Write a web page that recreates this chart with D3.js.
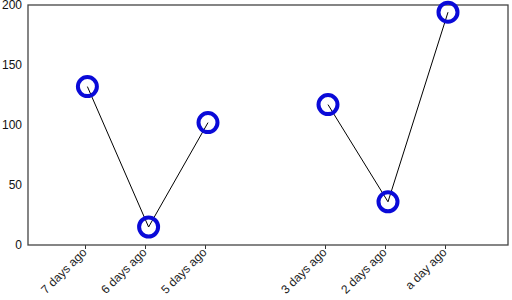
<!DOCTYPE html>
<html><head><meta charset="utf-8">
<script src="https://cdn.jsdelivr.net/npm/d3@7"></script>
<style>body{margin:0;background:#fff}svg{display:block}</style>
</head><body>
<script>
const tickDays = [-7, -6, -5, -3, -2, -1];
const tickLabels = ["7 days ago", "6 days ago", "5 days ago", "3 days ago", "2 days ago", "a day ago"];
const pointDays = [-6.96, -5.94, -4.95, -3.95, -2.95, -1.95, -0.95];
const values = [132, 15, 102, null, 117, 36, 194];
const yTicks = [0, 50, 100, 150, 200];

const W = 512, H = 300;
const m = {left: 28, right: 4, top: 5, bottom: 55};
const svg = d3.select("body").append("svg").attr("width", W).attr("height", H);
const x = d3.scaleLinear().domain([-7.95, 0.05]).range([m.left, W - m.right]);
const y = d3.scaleLinear().domain([0, 200]).range([H - m.bottom, m.top]);

const font = "'Liberation Sans', Arial, Helvetica, sans-serif";

// x axis
const xAxis = svg.append("g").attr("transform", `translate(0,${H - m.bottom})`)
  .call(d3.axisBottom(x).tickValues(tickDays).tickFormat((d, i) => tickLabels[i]).tickSizeOuter(0).tickSize(4));
xAxis.select(".domain").remove();
xAxis.selectAll(".tick line").attr("stroke", "#333");
xAxis.selectAll(".tick text")
  .attr("font-family", font).attr("font-size", 12).attr("fill", "#222")
  .attr("text-anchor", "end")
  .attr("transform", "translate(2,8) rotate(-45)")
  .attr("dx", 0).attr("dy", 0).attr("y", 0).attr("x", 0);

// y axis labels
const yAxis = svg.append("g").attr("transform", `translate(${m.left},0)`)
  .call(d3.axisLeft(y).tickValues(yTicks).tickSize(0).tickPadding(6));
yAxis.select(".domain").remove();
yAxis.selectAll(".tick text").attr("font-family", font).attr("font-size", 12).attr("fill", "#111");

// frame
svg.append("rect").attr("x", m.left).attr("y", m.top)
  .attr("width", W - m.right - m.left).attr("height", H - m.bottom - m.top)
  .attr("fill", "none").attr("stroke", "#444").attr("stroke-width", 1.3);

const pts = pointDays.map((d, i) => ({d, v: values[i]}));
const line = d3.line().defined(p => p.v != null).x(p => x(p.d)).y(p => y(p.v));
svg.append("path").datum(pts).attr("d", line).attr("fill", "none").attr("stroke", "#000").attr("stroke-width", 1);

svg.selectAll("circle.pt").data(pts.filter(p => p.v != null)).join("circle")
  .attr("class", "pt").attr("cx", p => x(p.d)).attr("cy", p => y(p.v)).attr("r", 9.5)
  .attr("fill", "none").attr("stroke", "#0a0ad8").attr("stroke-width", 4);
</script>
</body></html>
